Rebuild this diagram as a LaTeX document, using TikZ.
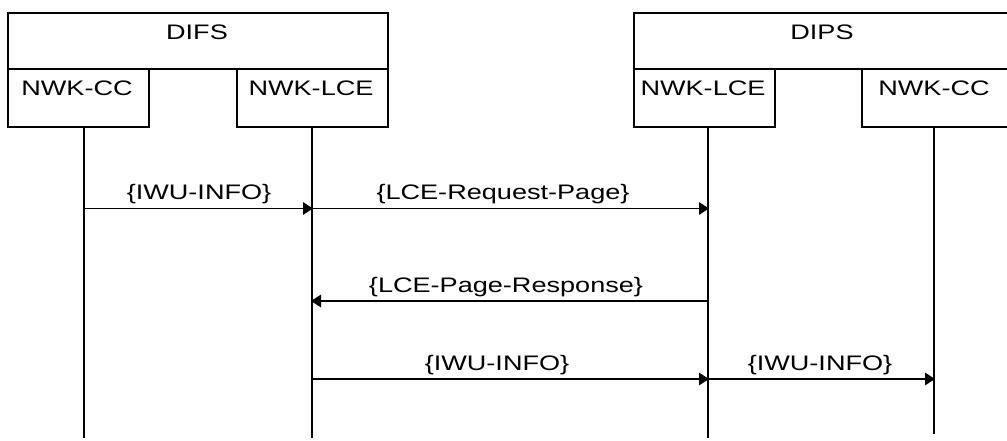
\documentclass[tikz,border=0pt]{standalone}
\usepackage{fontspec}
\setmainfont{Liberation Sans}[FakeStretch=1.29]
\usetikzlibrary{arrows.meta}
\begin{document}
\begin{tikzpicture}[x=1pt,y=-1pt,
  font=\fontsize{21}{25}\selectfont,
  box/.style={draw,line width=2.2pt,rectangle,inner sep=0pt,anchor=north west},
  txt/.style={anchor=base,inner sep=0pt},
  life/.style={line width=2pt},
  msg/.style={line width=1.5pt,-{Triangle[length=10pt,width=12.5pt]}, shorten >=-1pt}
]
\useasboundingbox (0,0) rectangle (1007,441);
% DIFS side
\node[box,minimum width=380pt,minimum height=56pt] (difs) at (7,12) {};
\node[box,minimum width=141pt,minimum height=58pt] (cc1) at (7,68) {};
\node[box,minimum width=151pt,minimum height=58pt] (lce1) at (236,68) {};
% DIPS side
\node[box,minimum width=376pt,minimum height=56pt] (dips) at (633,12) {};
\node[box,minimum width=141pt,minimum height=58pt] (lce2) at (633,68) {};
\node[box,minimum width=148pt,minimum height=58pt] (cc2) at (861,68) {};
% box texts
\node[txt] (tdifs) at (197,40) {DIFS};
\node[txt] (tcc1) at (77,96) {NWK-CC};
\node[txt] (tlce1) at (311,96) {NWK-LCE};
\node[txt] (tdips) at (822,40) {DIPS};
\node[txt] (tlce2) at (703,96) {NWK-LCE};
\node[txt] (tcc2) at (934,96) {NWK-CC};
% lifelines
\coordinate (l1t) at (84,126);  \coordinate (l1b) at (84,438);
\coordinate (l2t) at (312,126); \coordinate (l2b) at (312,438);
\coordinate (l3t) at (708,126); \coordinate (l3b) at (708,438);
\coordinate (l4t) at (934,126); \coordinate (l4b) at (934,434);
\draw[life] (l1t) -- (l1b);
\draw[life] (l2t) -- (l2b);
\draw[life] (l3t) -- (l3b);
\draw[life] (l4t) -- (l4b);
% message endpoints
\coordinate (m1a) at (84,208.5);  \coordinate (m1b) at (312,208.5);
\coordinate (m2a) at (312,208.5); \coordinate (m2b) at (708,208.5);
\coordinate (m3a) at (708,301);   \coordinate (m3b) at (312,301);
\coordinate (m4a) at (312,379);   \coordinate (m4b) at (708,379);
\coordinate (m5a) at (708,379);   \coordinate (m5b) at (934,379);
\draw[msg] (m1a) -- (m1b);
\draw[msg] (m2a) -- (m2b);
\draw[msg] (m3a) -- (m3b);
\draw[msg] (m4a) -- (m4b);
\draw[msg] (m5a) -- (m5b);
% labels
\node[txt] (t1) at (199,200) {\{IWU-INFO\}};
\node[txt] (t2) at (503,200) {\{LCE-Request-Page\}};
\node[txt] (t3) at (506,292) {\{LCE-Page-Response\}};
\node[txt] (t4) at (497,370) {\{IWU-INFO\}};
\node[txt] (t5) at (820,370) {\{IWU-INFO\}};
\end{tikzpicture}
\end{document}
